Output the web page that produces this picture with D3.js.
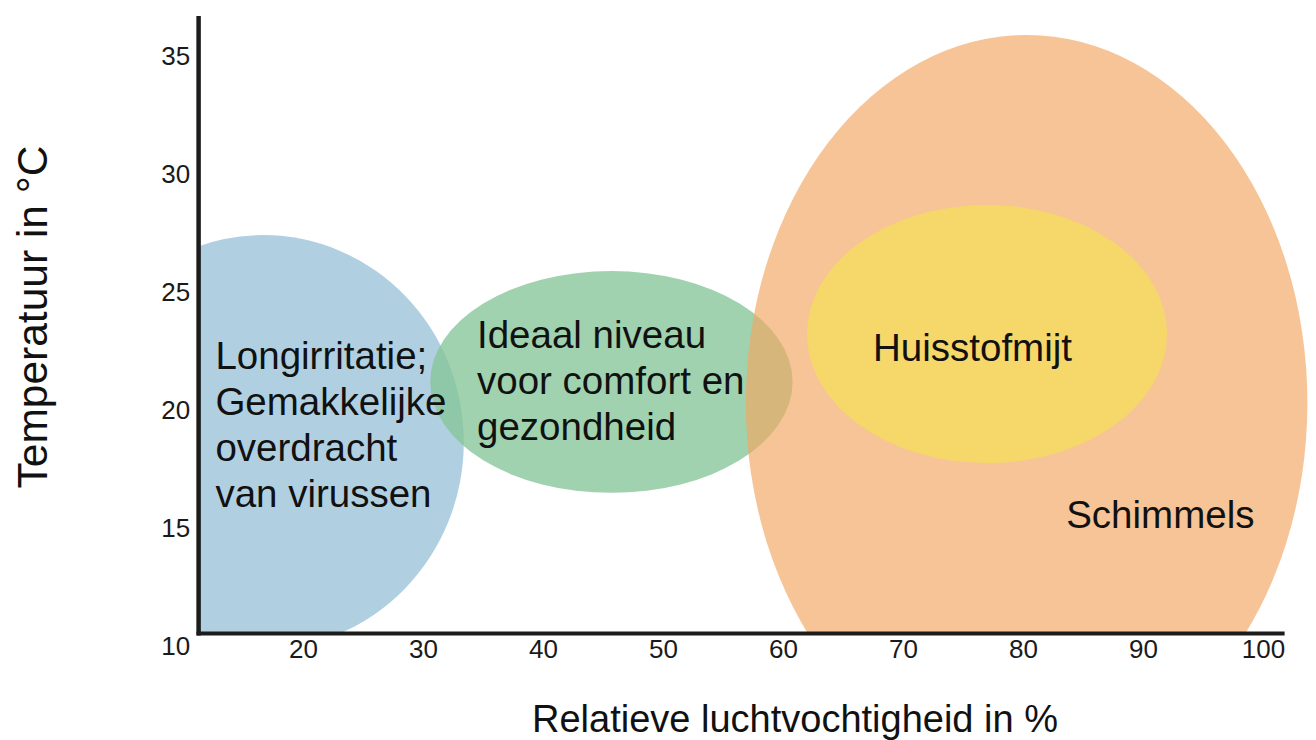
<!DOCTYPE html>
<html>
<head>
<meta charset="utf-8">
<script src="https://cdnjs.cloudflare.com/ajax/libs/d3/7.8.5/d3.min.js"></script>
<style>
  html, body { margin: 0; padding: 0; background: #fff; }
  svg { display: block; font-family: "Liberation Sans", Arial, sans-serif; }
</style>
</head>
<body>
<script>
// tick values
var xTicks = [20, 30, 40, 50, 60, 70, 80, 90, 100];
var yTicks = [10, 15, 20, 25, 30, 35];

// zones (ellipses) in data units: humidity % / temperature °C
var zoneNames = ["Longirritatie", "Ideaal", "Schimmels", "Huisstofmijt"];
var zoneCx = [16.7, 45.7, 80.3, 77.0];
var zoneCy = [18.64, 21.19, 20.3, 23.22];
var zoneRx = [16.7, 15.1, 23.4, 15.0];
var zoneRy = [8.77, 4.70, 15.59, 5.47];

// labels
var labelLines = [
  ["Longirritatie;", "Gemakkelijke", "overdracht", "van virussen"],
  ["Ideaal niveau", "voor comfort en", "gezondheid"],
  ["Huisstofmijt"],
  ["Schimmels"]
];
var labelX = [12.7, 34.5, 67.5, 83.6];
var labelY = [21.74, 22.63, 22.08, 15.0];

var xTitle = "Relatieve luchtvochtigheid in %";
var yTitle = "Temperatuur in °C";

// styles
var zoneFill = ["#b0d0e2", "rgb(133,197,152)", "rgb(242,168,100)", "#f6d76a"];
var zoneOpacity = [1, 0.78, 0.68, 1];

var w = 1316, h = 740;
var axisXAt = 11.3, axisYAt = 10.53, axisXEnd = 101.8, axisYEnd = 36.7;

var x = d3.scaleLinear().domain([10, 100]).range([183, 1263]);
var y = d3.scaleLinear().domain([10, 35]).range([646, 56]);

var svg = d3.select("body").append("svg")
  .attr("width", w)
  .attr("height", h);

svg.append("defs").append("clipPath")
  .attr("id", "plotclip")
  .append("rect")
    .attr("x", x(axisXAt))
    .attr("y", 0)
    .attr("width", w - x(axisXAt))
    .attr("height", y(axisYAt));

var zones = zoneNames.map(function(n, i) {
  return { name: n, cx: zoneCx[i], cy: zoneCy[i], rx: zoneRx[i], ry: zoneRy[i], fill: zoneFill[i], op: zoneOpacity[i] };
});

svg.append("g")
  .attr("clip-path", "url(#plotclip)")
  .selectAll("ellipse")
  .data(zones)
  .enter().append("ellipse")
    .attr("cx", function(d) { return x(d.cx); })
    .attr("cy", function(d) { return y(d.cy); })
    .attr("rx", function(d) { return x(d.cx + d.rx) - x(d.cx); })
    .attr("ry", function(d) { return y(d.cy) - y(d.cy + d.ry); })
    .attr("fill", function(d) { return d.fill; })
    .attr("fill-opacity", function(d) { return d.op; });

// axes (labels only, no tick marks)
var gy = svg.append("g")
  .attr("transform", "translate(" + x(axisXAt) + ",0)")
  .call(d3.axisLeft(y).tickValues(yTicks).tickSize(0).tickPadding(8.5));
var gx = svg.append("g")
  .attr("transform", "translate(0," + y(axisYAt) + ")")
  .call(d3.axisBottom(x).tickValues(xTicks).tickSize(0).tickPadding(6));
[gx, gy].forEach(function(g) {
  g.select(".domain").remove();
  g.selectAll("text")
    .attr("font-size", 26)
    .attr("font-family", "Liberation Sans, Arial, sans-serif")
    .attr("fill", "#1a1a1a");
});

// thick axis lines
svg.append("line")
  .attr("x1", x(axisXAt)).attr("x2", x(axisXAt))
  .attr("y1", y(axisYEnd)).attr("y2", y(axisYAt) + 2)
  .attr("stroke", "#1c1c1c").attr("stroke-width", 4.5);
svg.append("line")
  .attr("x1", x(axisXAt) - 2).attr("x2", x(axisXEnd))
  .attr("y1", y(axisYAt)).attr("y2", y(axisYAt))
  .attr("stroke", "#1c1c1c").attr("stroke-width", 4);

// zone labels
var labels = labelLines.map(function(l, i) { return { lines: l, x: labelX[i], y: labelY[i] }; });
svg.append("g").selectAll("text")
  .data(labels)
  .enter().append("text")
    .attr("x", function(d) { return x(d.x); })
    .attr("y", function(d) { return y(d.y); })
    .attr("font-size", 38.5)
    .attr("fill", "#111")
    .each(function(d) {
      var t = d3.select(this);
      d.lines.forEach(function(line, j) {
        t.append("tspan")
          .attr("x", x(d.x))
          .attr("dy", j === 0 ? 0 : 46)
          .text(line);
      });
    });

// axis titles
svg.append("text")
  .attr("x", 795)
  .attr("y", 732)
  .attr("text-anchor", "middle")
  .attr("font-size", 38)
  .attr("fill", "#111")
  .text(xTitle);

svg.append("text")
  .attr("transform", "translate(47,317) rotate(-90)")
  .attr("text-anchor", "middle")
  .attr("font-size", 42.5)
  .attr("fill", "#111")
  .text(yTitle);
</script>
</body>
</html>
